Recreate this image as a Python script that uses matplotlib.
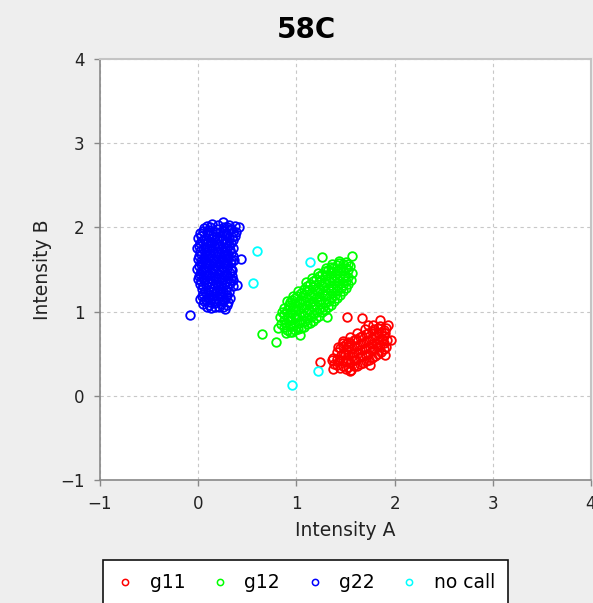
import matplotlib.pyplot as plt
from matplotlib.lines import Line2D

# genotype clusters, (Intensity A, Intensity B)
g11_x = [1.38, 1.37, 1.44, 1.43, 1.45, 1.44, 1.50, 1.51, 1.49, 1.50, 1.51,
         1.56, 1.55, 1.57, 1.56, 1.55, 1.62, 1.61, 1.63, 1.62, 1.61,
         1.68, 1.67, 1.69, 1.68, 1.67, 1.74, 1.73, 1.75, 1.74, 1.73,
         1.80, 1.79, 1.81, 1.80, 1.79, 1.86, 1.85, 1.87, 1.86, 1.85,
         1.91, 1.92, 1.90, 1.91,
         1.41, 1.41, 1.41, 1.47, 1.47, 1.47, 1.47, 1.53, 1.53, 1.53, 1.53, 1.53,
         1.59, 1.59, 1.59, 1.59, 1.59, 1.65, 1.65, 1.65, 1.65, 1.65,
         1.71, 1.71, 1.71, 1.71, 1.71, 1.77, 1.77, 1.77, 1.77, 1.77,
         1.83, 1.83, 1.83, 1.83, 1.83, 1.89, 1.89, 1.89, 1.89,
         1.42, 1.47, 1.55, 1.62, 1.70, 1.78,
         1.24, 1.36, 1.37, 1.47, 1.52, 1.67, 1.73, 1.85, 1.93, 1.96, 1.90, 1.75, 1.55]
g11_y = [0.38, 0.45, 0.33, 0.41, 0.49, 0.57, 0.32, 0.40, 0.48, 0.56, 0.62,
         0.31, 0.39, 0.47, 0.55, 0.63, 0.35, 0.43, 0.51, 0.59, 0.67,
         0.39, 0.47, 0.55, 0.63, 0.71, 0.42, 0.50, 0.58, 0.66, 0.74,
         0.47, 0.55, 0.63, 0.71, 0.79, 0.52, 0.60, 0.68, 0.76, 0.83,
         0.58, 0.66, 0.74, 0.81,
         0.36, 0.44, 0.52, 0.35, 0.43, 0.51, 0.59, 0.34, 0.42, 0.50, 0.58, 0.64,
         0.35, 0.43, 0.51, 0.59, 0.66, 0.38, 0.46, 0.54, 0.62, 0.70,
         0.41, 0.49, 0.57, 0.65, 0.73, 0.45, 0.53, 0.61, 0.69, 0.77,
         0.50, 0.58, 0.66, 0.74, 0.81, 0.55, 0.63, 0.71, 0.78,
         0.58, 0.65, 0.70, 0.75, 0.79, 0.84,
         0.40, 0.43, 0.32, 0.63, 0.94, 0.92, 0.84, 0.90, 0.84, 0.66, 0.48, 0.37, 0.30]

g12_x = [0.84, 0.83, 0.85, 0.90, 0.89, 0.91, 0.90, 0.92,
         0.96, 0.97, 0.95, 0.96, 0.97, 0.96, 1.02, 1.03, 1.01, 1.02, 1.03, 1.01,
         1.08, 1.09, 1.07, 1.08, 1.09, 1.07, 1.08, 1.14, 1.15, 1.13, 1.14, 1.15, 1.13, 1.14,
         1.20, 1.21, 1.19, 1.20, 1.21, 1.19, 1.20, 1.26, 1.27, 1.25, 1.26, 1.27, 1.25, 1.26,
         1.32, 1.33, 1.31, 1.32, 1.33, 1.31, 1.32, 1.38, 1.39, 1.37, 1.38, 1.39, 1.37,
         1.44, 1.45, 1.43, 1.44, 1.45, 1.43, 1.50, 1.51, 1.49, 1.50, 1.51,
         1.56, 1.57, 1.55, 1.57,
         0.87, 0.87, 0.87, 0.87, 0.93, 0.93, 0.93, 0.93, 0.93, 0.93,
         0.99, 0.99, 0.99, 0.99, 0.99, 0.99, 1.05, 1.05, 1.05, 1.05, 1.05, 1.05,
         1.11, 1.11, 1.11, 1.11, 1.11, 1.11, 1.11, 1.17, 1.17, 1.17, 1.17, 1.17, 1.17, 1.17,
         1.23, 1.23, 1.23, 1.23, 1.23, 1.23, 1.23, 1.29, 1.29, 1.29, 1.29, 1.29, 1.29, 1.29,
         1.35, 1.35, 1.35, 1.35, 1.35, 1.35, 1.35, 1.41, 1.41, 1.41, 1.41, 1.41, 1.41,
         1.47, 1.47, 1.47, 1.47, 1.47, 1.53, 1.53, 1.53, 1.53,
         0.90, 0.97, 1.02, 1.10, 1.16, 1.22, 1.30, 1.36, 1.43,
         0.65, 0.79, 0.89, 1.04, 1.31, 1.26, 0.81]
g12_y = [0.85, 0.93, 1.00, 0.78, 0.86, 0.94, 1.02, 1.08,
         0.76, 0.83, 0.90, 0.98, 1.06, 1.14, 0.79, 0.86, 0.94, 1.02, 1.10, 1.18,
         0.82, 0.89, 0.96, 1.04, 1.12, 1.20, 1.27, 0.87, 0.94, 1.02, 1.10, 1.18, 1.26, 1.33,
         0.92, 1.00, 1.08, 1.16, 1.24, 1.32, 1.39, 0.99, 1.06, 1.14, 1.22, 1.30, 1.38, 1.45,
         1.05, 1.12, 1.20, 1.28, 1.36, 1.44, 1.50, 1.12, 1.20, 1.28, 1.36, 1.44, 1.52,
         1.20, 1.28, 1.36, 1.44, 1.52, 1.58, 1.28, 1.36, 1.44, 1.52, 1.59,
         1.38, 1.46, 1.54, 1.66,
         0.82, 0.90, 0.97, 1.04, 0.76, 0.83, 0.90, 0.98, 1.05, 1.11,
         0.78, 0.86, 0.94, 1.02, 1.10, 1.16, 0.80, 0.90, 0.98, 1.06, 1.14, 1.22,
         0.85, 0.92, 1.00, 1.08, 1.16, 1.24, 1.30, 0.89, 0.97, 1.05, 1.13, 1.21, 1.29, 1.36,
         0.95, 1.03, 1.11, 1.19, 1.27, 1.35, 1.42, 1.02, 1.10, 1.18, 1.26, 1.34, 1.42, 1.48,
         1.08, 1.16, 1.24, 1.32, 1.40, 1.48, 1.53, 1.16, 1.24, 1.32, 1.40, 1.48, 1.55,
         1.24, 1.32, 1.40, 1.48, 1.56, 1.33, 1.41, 1.49, 1.56,
         1.12, 1.19, 1.25, 1.35, 1.40, 1.46, 1.52, 1.56, 1.60,
         0.73, 0.64, 0.74, 0.72, 0.93, 1.65, 0.80]

g22_x = [0.14, 0.25, 0.31,
         0.06, 0.12, 0.19, 0.26, 0.33, 0.42,
         0.02, 0.09, 0.15, 0.22, 0.28, 0.35,
         0.00, 0.06, 0.13, 0.19, 0.25, 0.31, 0.37,
         0.02, 0.08, 0.14, 0.20, 0.27, 0.33,
         -0.01, 0.05, 0.11, 0.17, 0.23, 0.29, 0.35,
         0.03, 0.09, 0.15, 0.21, 0.27, 0.33,
         0.00, 0.06, 0.12, 0.18, 0.24, 0.30, 0.36, 0.44,
         0.03, 0.09, 0.15, 0.21, 0.27, 0.33,
         -0.01, 0.05, 0.11, 0.17, 0.23, 0.29, 0.34,
         0.02, 0.08, 0.14, 0.20, 0.26, 0.32,
         0.00, 0.06, 0.12, 0.18, 0.24, 0.30, 0.35,
         0.02, 0.08, 0.14, 0.20, 0.26, 0.32, 0.40,
         0.04, 0.10, 0.16, 0.22, 0.28,
         0.05, 0.11, 0.17, 0.23, 0.29,
         0.02, 0.08, 0.14, 0.20, 0.26, 0.32,
         0.05, 0.11, 0.17, 0.23, 0.29,
         0.13, 0.21, 0.27,
         0.09, 0.20, 0.29, 0.37,
         0.05, 0.11, 0.18, 0.25, 0.31, 0.38,
         0.03, 0.10, 0.16, 0.22, 0.28, 0.34,
         0.04, 0.10, 0.17, 0.23, 0.29, 0.35,
         0.01, 0.07, 0.13, 0.19, 0.25, 0.31,
         0.02, 0.08, 0.14, 0.20, 0.26, 0.32,
         0.01, 0.06, 0.12, 0.18, 0.24, 0.30, 0.35,
         0.03, 0.09, 0.15, 0.21, 0.27, 0.33,
         0.01, 0.06, 0.12, 0.18, 0.24, 0.30,
         0.03, 0.09, 0.15, 0.21, 0.27, 0.33,
         0.01, 0.05, 0.11, 0.17, 0.23, 0.29, 0.34,
         0.03, 0.09, 0.15, 0.21, 0.27, 0.33,
         0.05, 0.11, 0.17, 0.23, 0.29, 0.35,
         0.07, 0.13, 0.19, 0.25, 0.31,
         0.04, 0.10, 0.16, 0.22, 0.28,
         0.06, 0.12, 0.18, 0.24, 0.30,
         0.09, 0.17, 0.25,
         -0.08]
g22_y = [2.04, 2.07, 2.03,
         1.99, 2.00, 1.98, 2.01, 1.98, 2.00,
         1.93, 1.94, 1.92, 1.94, 1.93, 1.95,
         1.87, 1.86, 1.88, 1.87, 1.86, 1.88, 1.90,
         1.81, 1.80, 1.82, 1.80, 1.81, 1.82,
         1.75, 1.74, 1.76, 1.75, 1.74, 1.76, 1.75,
         1.69, 1.68, 1.70, 1.69, 1.68, 1.70,
         1.63, 1.62, 1.64, 1.63, 1.62, 1.64, 1.61, 1.63,
         1.57, 1.56, 1.58, 1.57, 1.56, 1.58,
         1.51, 1.50, 1.52, 1.51, 1.50, 1.52, 1.50,
         1.45, 1.44, 1.46, 1.45, 1.44, 1.46,
         1.39, 1.38, 1.40, 1.39, 1.38, 1.40, 1.37,
         1.33, 1.32, 1.34, 1.33, 1.32, 1.34, 1.31,
         1.27, 1.26, 1.28, 1.27, 1.26,
         1.21, 1.20, 1.22, 1.21, 1.20,
         1.15, 1.14, 1.16, 1.15, 1.14, 1.16,
         1.09, 1.08, 1.10, 1.09, 1.08,
         1.04, 1.05, 1.03,
         2.02, 2.03, 2.01, 2.02,
         1.96, 1.97, 1.95, 1.96, 1.97, 1.95,
         1.90, 1.91, 1.89, 1.90, 1.91, 1.89,
         1.84, 1.83, 1.85, 1.84, 1.83, 1.85,
         1.78, 1.77, 1.79, 1.78, 1.77, 1.79,
         1.72, 1.71, 1.73, 1.72, 1.71, 1.73,
         1.66, 1.65, 1.67, 1.66, 1.65, 1.67, 1.66,
         1.60, 1.59, 1.61, 1.60, 1.59, 1.61,
         1.54, 1.53, 1.55, 1.54, 1.53, 1.55,
         1.48, 1.47, 1.49, 1.48, 1.47, 1.49,
         1.42, 1.41, 1.43, 1.42, 1.41, 1.43, 1.42,
         1.36, 1.35, 1.37, 1.36, 1.35, 1.37,
         1.30, 1.29, 1.31, 1.30, 1.29, 1.30,
         1.24, 1.23, 1.25, 1.24, 1.23,
         1.18, 1.17, 1.19, 1.18, 1.17,
         1.12, 1.11, 1.13, 1.12, 1.11,
         1.06, 1.06, 1.05,
         0.96]

nocall_x = [0.60, 0.56, 1.14, 1.22, 0.96]
nocall_y = [1.72, 1.34, 1.59, 0.29, 0.13]

series = [("g11", g11_x, g11_y, "#ff0000"),
          ("g12", g12_x, g12_y, "#00ff00"),
          ("g22", g22_x, g22_y, "#0000ff"),
          ("no call", nocall_x, nocall_y, "#00ffff")]

fig = plt.figure(figsize=(5.93, 6.03), dpi=100, facecolor="#eeeeee")
ax = fig.add_axes([100 / 593, 1 - 480 / 603, 491 / 593, 421 / 603])
ax.set_facecolor("white")

for name, xs, ys, col in series:
    ax.plot(xs, ys, linestyle="none", marker="o", markersize=6.2,
            markerfacecolor="none", markeredgecolor=col, markeredgewidth=1.3)

ax.set_xlim(-1, 4)
ax.set_ylim(-1, 4)
ax.set_xticks([-1, 0, 1, 2, 3, 4])
ax.set_yticks([-1, 0, 1, 2, 3, 4])
ax.set_xticklabels(["\u22121", "0", "1", "2", "3", "4"])
ax.set_yticklabels(["\u22121", "0", "1", "2", "3", "4"])
ax.set_axisbelow(True)
ax.grid(True, color="#c8c8c8", linestyle=(0, (3, 3)), linewidth=0.8)

for side in ["left", "bottom"]:
    ax.spines[side].set_color("#888888")
    ax.spines[side].set_linewidth(1.2)
for side in ["top", "right"]:
    ax.spines[side].set_color("#c4c4c4")
    ax.spines[side].set_linewidth(1.5)

ax.tick_params(direction="out", length=4, width=1, color="#888888",
               labelsize=12, labelcolor="#222222", pad=7)

fig.text(306 / 593, 1 - 30 / 603, "58C", fontsize=20, fontweight="bold",
         ha="center", va="center")
fig.text(345 / 593, 1 - 530 / 603, "Intensity A", fontsize=13.5,
         color="#222222", ha="center", va="center")
fig.text(42 / 593, 1 - 270 / 603, "Intensity B", fontsize=13.5,
         color="#222222", ha="center", va="center", rotation=90)

handles = [Line2D([], [], linestyle="none", marker="o", markersize=4.5,
                  markerfacecolor="none", markeredgecolor=col, markeredgewidth=1.1)
           for name, xs, ys, col in series]
leg = fig.legend(handles, [s[0] for s in series], loc="center",
                 bbox_to_anchor=(305.5 / 593, 1 - 583 / 603), ncol=4,
                 fontsize=13.5, frameon=True, fancybox=False, edgecolor="#111111",
                 framealpha=1, facecolor="white",
                 handlelength=1.0, handletextpad=0.8, columnspacing=1.35,
                 borderpad=0.7)
leg.get_frame().set_linewidth(1.2)

fig.savefig("out.png", dpi=100, facecolor=fig.get_facecolor())
